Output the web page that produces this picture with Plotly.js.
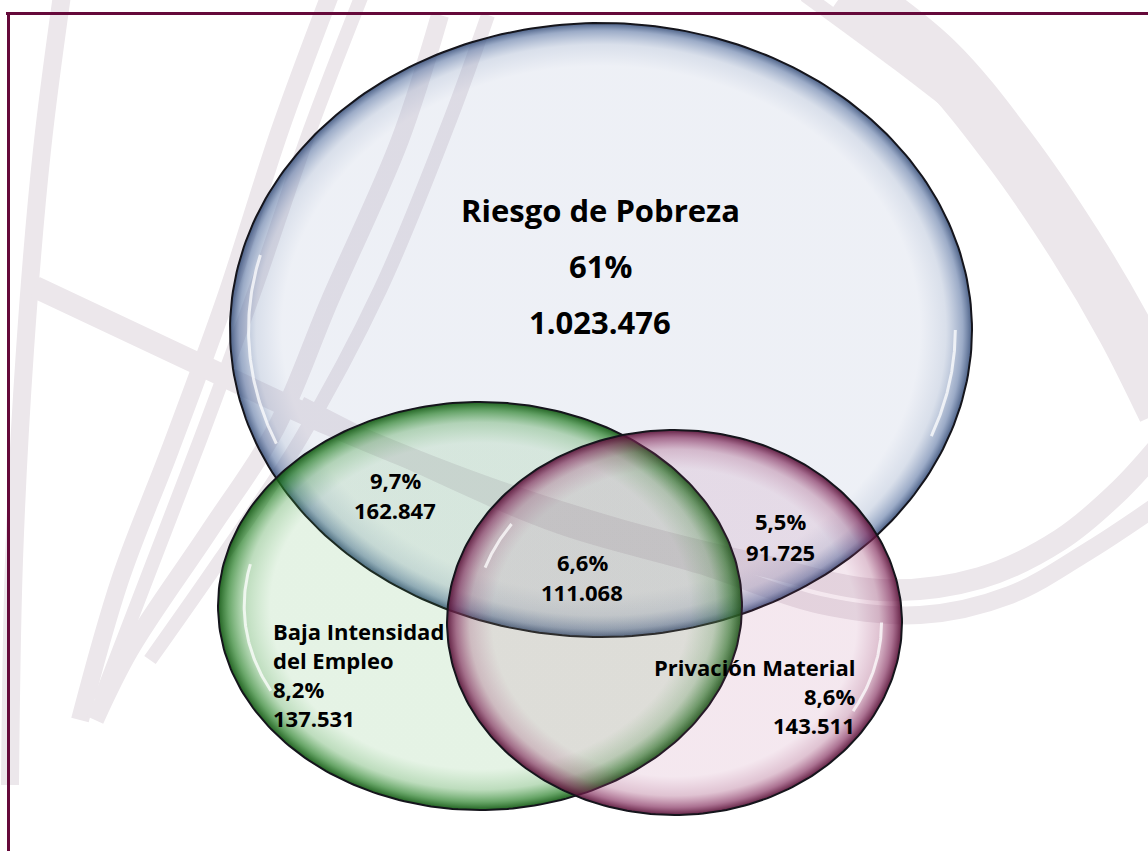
<!DOCTYPE html>
<html><head><meta charset="utf-8">
<script src="https://cdn.plot.ly/plotly-3.0.1.min.js"></script>
<style>html,body{margin:0;padding:0;background:#fff;}#chart{width:1148px;height:851px;}</style>
</head><body><div id="chart"></div>
<script>
// ---------------- data ----------------
const setNames = ['Riesgo de Pobreza', 'Baja Intensidad del Empleo', 'Privación Material'];
const regionNames = ['Riesgo de Pobreza', 'Baja Intensidad del Empleo', 'Privación Material',
                     'Riesgo + Baja Intensidad', 'Riesgo + Privación', 'Riesgo + Baja Intensidad + Privación'];
const regionTitles = [['Riesgo de Pobreza'], ['Baja Intensidad', 'del Empleo'], ['Privación Material'], [], [], []];
const regionPercent = [61, 8.2, 8.6, 9.7, 5.5, 6.6];
const regionPeople = [1023476, 137531, 143511, 162847, 91725, 111068];

// ---------------- layout / geometry (pixels) ----------------
const W = 1148, H = 851;
const ellipses = [
  {cx: 601, cy: 330, rx: 371, ry: 307},
  {cx: 480, cy: 606, rx: 262, ry: 204},
  {cx: 674.5, cy: 622.5, rx: 227.5, ry: 192.5}
];
const ellipseScales = [
  [[0,'rgba(120,140,185,0.13)'],[0.86,'rgba(120,140,185,0.13)'],[0.93,'rgba(120,142,182,0.28)'],[0.975,'rgba(95,120,165,0.62)'],[1,'rgba(55,78,120,0.9)']],
  [[0,'rgba(70,170,70,0.14)'],[0.80,'rgba(70,170,70,0.14)'],[0.90,'rgba(55,150,55,0.33)'],[0.96,'rgba(35,125,35,0.68)'],[1,'rgba(15,85,15,0.92)']],
  [[0,'rgba(165,60,120,0.12)'],[0.80,'rgba(165,60,120,0.12)'],[0.90,'rgba(150,55,105,0.30)'],[0.96,'rgba(125,35,85,0.64)'],[1,'rgba(85,15,52,0.92)']]
];
const highlights = [
  {e:0, s:0.95, a0:Math.PI-0.40, a1:Math.PI+0.26},
  {e:0, s:0.955, a0:0.0, a1:0.37},
  {e:1, s:0.9, a0:Math.PI-0.48, a1:Math.PI+0.23},
  {e:2, s:0.91, a0:0.0, a1:0.53},
  {e:2, s:0.88, a0:Math.PI+0.33, a1:Math.PI+0.62}
];
const labelPos = [
  {x:600, y:210, dy:56, size:31, anchor:'center'},
  {x:271, y:631, dy:29, size:22, anchor:'left'},
  {x:857, y:667, dy:29, size:22, anchor:'right'},
  {x:395, y:480, dy:30, size:22, anchor:'center'},
  {x:780, y:521, dy:31, size:22, anchor:'center'},
  {x:582, y:562, dy:30, size:22, anchor:'center'}
];
// decorative brush strokes in the background
const strokeColor = 'rgb(236,231,235)';
const strokes = [
  {w:18, pts:[[62,-5],[42,150],[25,350],[14,560],[10,785]]},
  {w:18, pts:[[330,-5],[280,130],[225,300],[170,450],[120,580],[80,720]]},
  {w:14, pts:[[362,-5],[310,130],[255,290],[200,440],[150,570],[100,700]]},
  {w:18, pts:[[440,15],[400,140],[330,300],[275,430],[210,530],[130,650],[95,720]]},
  {w:14, pts:[[488,15],[450,120],[380,290],[300,440],[220,560],[150,660]]},
  {w:22, pts:[[35,287],[190,360],[330,425],[480,485],[620,530],[760,565],[880,590],[980,578],[1060,540],[1120,490],[1165,440]]},
  {w:18, pts:[[300,405],[420,465],[560,525],[700,565],[820,605],[920,615],[1010,595],[1090,550],[1165,500]]},
  {w:55, pts:[[845,-10],[935,60],[1010,150],[1075,245],[1125,330],[1165,410]]},
  {w:14, pts:[[805,-5],[900,65],[990,135]]}
];

// ---------------- helpers ----------------
function fmtPct(v){ return String(v).replace('.', ',') + '%'; }
function fmtNum(v){ return String(v).replace(/\B(?=(\d{3})+(?!\d))/g, '.'); }
function ellipsePts(g, s, a0, a1, n){
  const xs = [], ys = [];
  for (let i = 0; i <= n; i++){
    const t = a0 + (a1 - a0) * i / n;
    xs.push(g.cx + g.rx * s * Math.cos(t));
    ys.push(g.cy + g.ry * s * Math.sin(t));
  }
  return {x: xs, y: ys};
}

const traces = [];
strokes.forEach(st => {
  traces.push({x: st.pts.map(p => p[0]), y: st.pts.map(p => p[1]), mode:'lines',
    line:{color: strokeColor, width: st.w, shape:'spline', smoothing:1}, hoverinfo:'skip', showlegend:false});
});
ellipses.forEach((g, i) => {
  const p = ellipsePts(g, 1, 0, 2*Math.PI, 300);
  traces.push({x:p.x, y:p.y, mode:'lines', fill:'toself', name: setNames[i],
    fillgradient:{type:'radial', colorscale: ellipseScales[i]},
    line:{color:'#15151c', width:2}, hoverinfo:'name', showlegend:false});
});
highlights.forEach(h => {
  const p = ellipsePts(ellipses[h.e], h.s, h.a0, h.a1, 60);
  traces.push({x:p.x, y:p.y, mode:'lines', line:{color:'rgba(255,255,255,0.75)', width:3},
    hoverinfo:'skip', showlegend:false});
});

const annotations = [];
regionNames.forEach((name, i) => {
  const lp = labelPos[i];
  const lines = regionTitles[i].concat([fmtPct(regionPercent[i]), fmtNum(regionPeople[i])]);
  lines.forEach((txt, k) => {
    annotations.push({x: lp.x, y: lp.y + k*lp.dy, xref:'x', yref:'y', text: txt, showarrow:false,
      xanchor: lp.anchor, yanchor:'middle', align: lp.anchor,
      font:{family:'"Open Sans", "Noto Sans", sans-serif', size: lp.size, color:'#000', weight:700}});
  });
});

const shapes = [
  {type:'line', xref:'x', yref:'y', x0:6, x1:W+10, y0:13.5, y1:13.5, line:{color:'#65093a', width:3}},
  {type:'line', xref:'x', yref:'y', x0:8.5, x1:8.5, y0:12, y1:H+10, line:{color:'#65093a', width:3}}
];

const layout = {
  width: W, height: H, margin:{l:0, r:0, t:0, b:0},
  paper_bgcolor:'#ffffff', plot_bgcolor:'#ffffff',
  xaxis:{range:[0, W], visible:false, fixedrange:true},
  yaxis:{range:[H, 0], visible:false, fixedrange:true},
  showlegend:false, annotations: annotations, shapes: shapes, hovermode:'closest'
};
Plotly.newPlot('chart', traces, layout, {displayModeBar:false, staticPlot:true});
</script>
</body></html>
